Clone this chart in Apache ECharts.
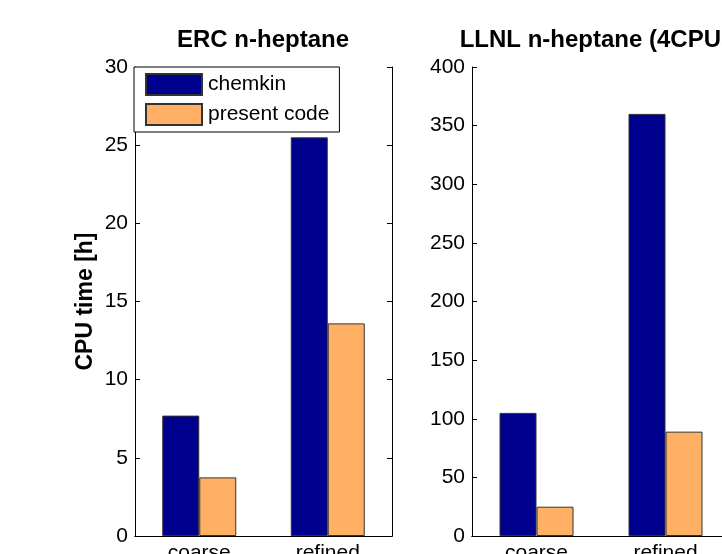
<!DOCTYPE html>
<html>
<head>
<meta charset="utf-8">
<script src="https://cdn.jsdelivr.net/npm/echarts@6/dist/echarts.min.js"></script>
<style>
html,body{margin:0;padding:0;background:#fff;}
#chart{width:722px;height:554px;}
</style>
</head>
<body>
<div id="chart"></div>
<script>
const categories = ['coarse', 'refined'];
const seriesNames = ['chemkin', 'present code'];
const ercChemkin = [7.7, 25.5];
const ercPresent = [3.75, 13.6];
const llnlChemkin = [105, 360];
const llnlPresent = [25, 89];
const titles = ['ERC n-heptane', 'LLNL n-heptane (4CPUs)'];
const yLabel = 'CPU time [h]';

const FONT = 'Liberation Sans, Arial, sans-serif';
const COL_BLUE = '#00008F';
const COL_ORANGE = '#FFB064';

const grids = [
  {left: 135, top: 67, width: 257, height: 469, containLabel: false, outerBoundsMode: 'none'},
  {left: 472, top: 67, width: 258, height: 469, containLabel: false, outerBoundsMode: 'none'}
];
const yRanges = [{min: 0, max: 30, interval: 5}, {min: 0, max: 400, interval: 50}];

const xAxes = [], yAxes = [];
grids.forEach((g, i) => {
  xAxes.push({
    type: 'category', gridIndex: i, data: categories, position: 'bottom',
    axisLine: {lineStyle: {color: '#000', width: 1}},
    axisTick: {inside: true, length: 5, alignWithLabel: true, lineStyle: {color: '#000'}},
    axisLabel: {fontSize: 21, color: '#000', fontFamily: FONT, margin: 7}
  });
  xAxes.push({
    type: 'category', gridIndex: i, data: categories, position: 'top',
    axisLine: {lineStyle: {color: '#000', width: 1}},
    axisTick: {inside: true, length: 5, alignWithLabel: true, lineStyle: {color: '#000'}},
    axisLabel: {show: false}
  });
  yAxes.push(Object.assign({
    type: 'value', gridIndex: i, position: 'left',
    splitLine: {show: false},
    axisLine: {show: true, lineStyle: {color: '#000', width: 1}},
    axisTick: {show: true, inside: true, length: 5, lineStyle: {color: '#000'}},
    axisLabel: {fontSize: 21, color: '#000', fontFamily: FONT, margin: 7},
    name: i === 0 ? yLabel : '',
    nameLocation: 'middle', nameRotate: 90, nameGap: 38,
    nameTextStyle: {fontSize: 23, fontWeight: 'bold', color: '#000', fontFamily: FONT}
  }, yRanges[i]));
  yAxes.push(Object.assign({
    type: 'value', gridIndex: i, position: 'right',
    splitLine: {show: false},
    axisLine: {show: true, lineStyle: {color: '#000', width: 1}},
    axisTick: {show: true, inside: true, length: 5, lineStyle: {color: '#000'}},
    axisLabel: {show: false}
  }, yRanges[i]));
});

function bar(name, data, color, gi) {
  return {
    type: 'bar', name: name, data: data,
    xAxisIndex: gi * 2, yAxisIndex: gi * 2,
    barWidth: 37, barGap: '0%',
    itemStyle: {color: color, borderColor: '#333', borderWidth: 1},
    emphasis: {disabled: true}
  };
}

const option = {
  animation: false,
  backgroundColor: '#fff',
  title: [
    {text: titles[0], left: 263, top: 28, textAlign: 'center', padding: 0,
     textStyle: {fontSize: 24, fontWeight: 'bold', color: '#000', fontFamily: FONT}},
    {text: titles[1], left: 601, top: 28, textAlign: 'center', padding: 0,
     textStyle: {fontSize: 24, fontWeight: 'bold', color: '#000', fontFamily: FONT}}
  ],
  legend: {
    data: seriesNames, orient: 'vertical', left: 134, top: 67,
    padding: [6, 10, 6, 11], itemGap: 7, itemWidth: 56, itemHeight: 21,
    borderColor: '#000', borderWidth: 1, backgroundColor: '#fff',
    icon: 'rect', z: 10, selectedMode: false,
    textStyle: {fontSize: 21, color: '#000', fontFamily: FONT, lineHeight: 21, padding: [0, 0, 0, 1]}
  },
  grid: grids,
  xAxis: xAxes,
  yAxis: yAxes,
  series: [
    bar(seriesNames[0], ercChemkin, COL_BLUE, 0),
    bar(seriesNames[1], ercPresent, COL_ORANGE, 0),
    bar(seriesNames[0], llnlChemkin, COL_BLUE, 1),
    bar(seriesNames[1], llnlPresent, COL_ORANGE, 1)
  ]
};
const chart = echarts.init(document.getElementById('chart'), null, {renderer: 'canvas'});
chart.setOption(option);
</script>
</body>
</html>
